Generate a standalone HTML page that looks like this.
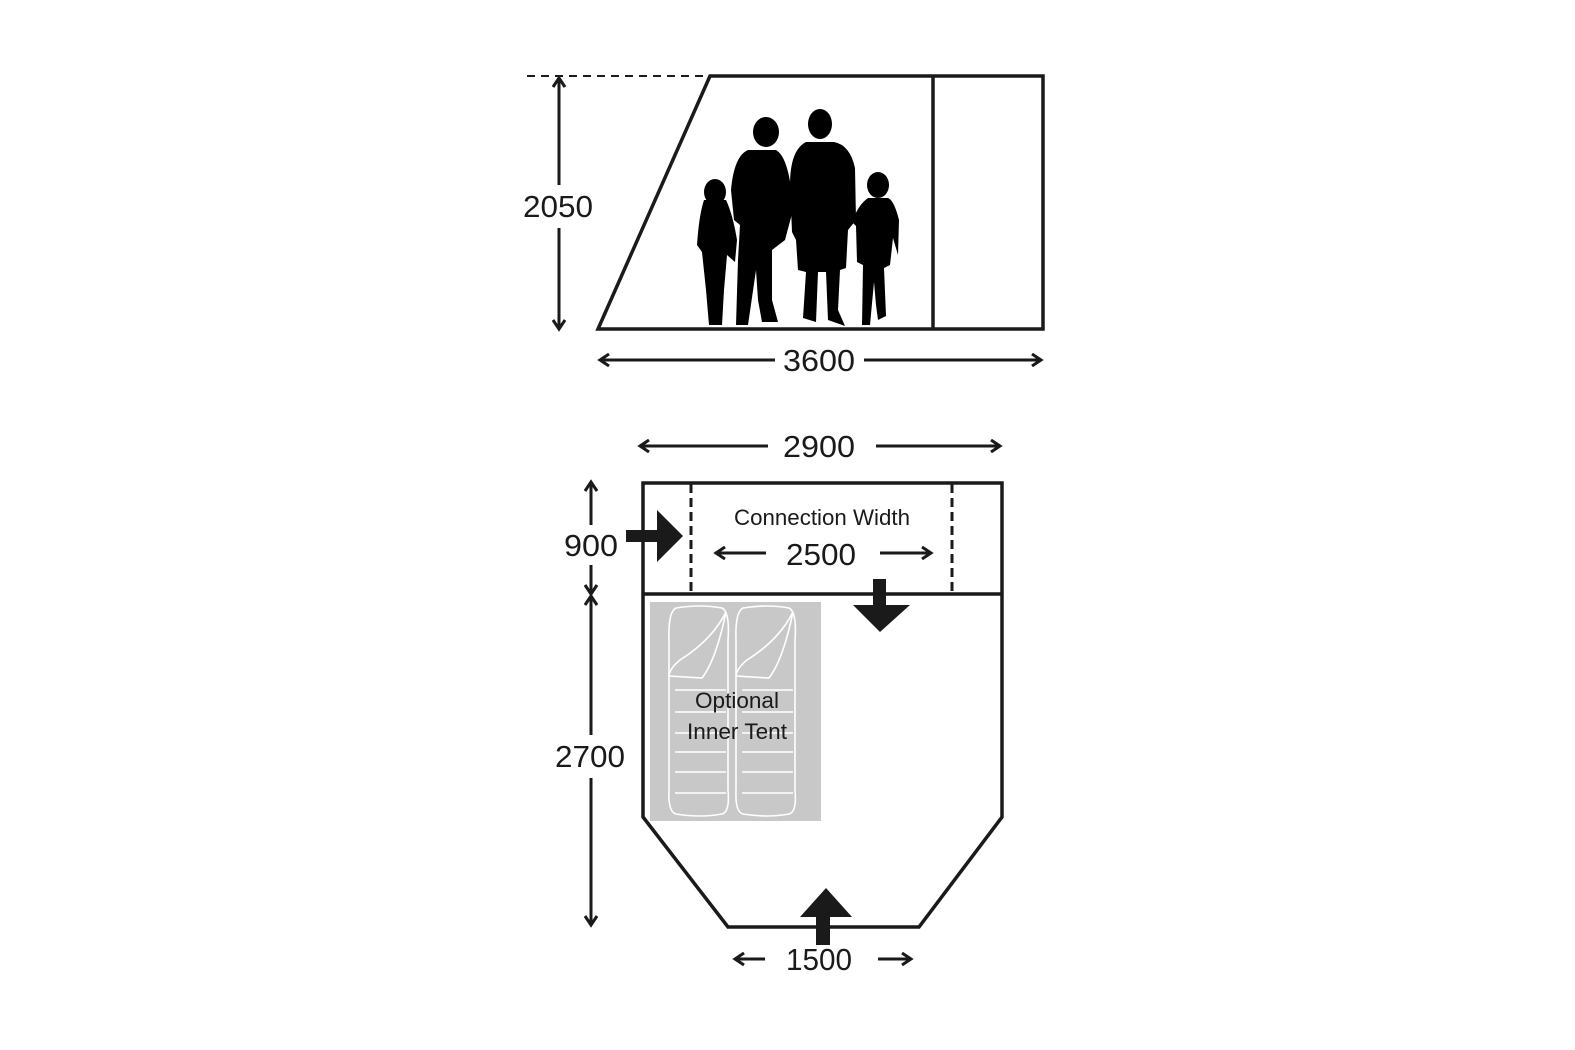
<!DOCTYPE html>
<html><head><meta charset="utf-8"><style>
html,body{margin:0;padding:0;background:#fff;width:1575px;height:1050px;overflow:hidden}
text{font-family:"Liberation Sans Narrow","Liberation Sans",sans-serif;fill:#1a1a1a}
</style></head><body>
<svg width="1575" height="1050" viewBox="0 0 1575 1050" xmlns="http://www.w3.org/2000/svg">
<defs>
<marker id="ah" markerWidth="14" markerHeight="14" refX="11" refY="7" orient="auto" markerUnits="userSpaceOnUse">
<path d="M2,1 L11,7 L2,13" fill="none" stroke="#1a1a1a" stroke-width="3"/>
</marker>
</defs>
<g stroke="#1a1a1a" stroke-width="3.5" fill="none">
<line x1="527" y1="76" x2="710" y2="76" stroke-dasharray="8,6" stroke-width="2"/>
<polygon points="710,76 1043,76 1043,329 598,329"/>
<line x1="933" y1="76" x2="933" y2="329"/>
<line x1="559" y1="185" x2="559" y2="78" stroke-width="3" marker-end="url(#ah)"/>
<line x1="559" y1="228" x2="559" y2="329" stroke-width="3" marker-end="url(#ah)"/>
<line x1="775" y1="360" x2="600" y2="360" stroke-width="3" marker-end="url(#ah)"/>
<line x1="864" y1="360" x2="1041" y2="360" stroke-width="3" marker-end="url(#ah)"/>
<line x1="768" y1="446" x2="640" y2="446" stroke-width="3" marker-end="url(#ah)"/>
<line x1="876" y1="446" x2="1000" y2="446" stroke-width="3" marker-end="url(#ah)"/>
</g>
<rect x="650" y="602" width="171" height="219" fill="#c8c8c8"/>
<g fill="none" stroke="#fff" stroke-width="1.6">
<path d="M676,608 Q700,604 722,608 Q730,612 728,640 L728,790 Q730,812 722,814 Q700,818 676,814 Q668,812 669,790 L669,640 Q668,612 676,608 Z"/>
<path d="M743,608 Q767,604 789,608 Q797,612 795,640 L795,790 Q797,812 789,814 Q767,818 743,814 Q735,812 736,790 L736,640 Q735,612 743,608 Z"/>
<path d="M726,612 Q712,640 680,660 Q670,668 669,676 L702,678 Q716,660 726,612"/>
<path d="M793,612 Q779,640 747,660 Q737,668 736,676 L769,678 Q783,660 793,612"/>
<path d="M675,690H726M675,712H726M675,733H726M675,752H726M675,772H726M675,793H726M742,690H793M742,712H793M742,733H793M742,752H793M742,772H793M742,793H793"/>
</g>
<g stroke="#1a1a1a" stroke-width="3.5" fill="none">
<polyline points="1002,594 1002,483 643,483 643,817 728,927 919,927 1002,817 1002,594 643,594"/>
<line x1="691" y1="484" x2="691" y2="594" stroke-dasharray="9,5" stroke-width="3"/>
<line x1="952" y1="484" x2="952" y2="594" stroke-dasharray="9,5" stroke-width="3"/>
<line x1="766" y1="553" x2="716" y2="553" stroke-width="3" marker-end="url(#ah)"/>
<line x1="880" y1="553" x2="931" y2="553" stroke-width="3" marker-end="url(#ah)"/>
<line x1="591" y1="525" x2="591" y2="482" stroke-width="3" marker-end="url(#ah)"/>
<line x1="591" y1="565" x2="591" y2="594" stroke-width="3" marker-end="url(#ah)"/>
<line x1="591" y1="735" x2="591" y2="596" stroke-width="3" marker-end="url(#ah)"/>
<line x1="591" y1="778" x2="591" y2="925" stroke-width="3" marker-end="url(#ah)"/>
<line x1="765" y1="959" x2="735" y2="959" stroke-width="3" marker-end="url(#ah)"/>
<line x1="878" y1="959" x2="911" y2="959" stroke-width="3" marker-end="url(#ah)"/>
</g>
<g fill="#1a1a1a">
<polygon points="626,530 657,530 657,510 683,536 657,562 657,542 626,542"/>
<polygon points="873,579 886,579 886,605 910,605 880,632 853,605 873,605"/>
<polygon points="816,945 830,945 830,917 852,917 826,888 800,917 816,917"/>
</g>
<g fill="#000">
<ellipse cx="715" cy="192" rx="11" ry="13"/>
<path d="M704,200 Q699,215 697,245 L702,252 L706,290 L709,325 L722,325 L724,290 L727,255 L735,262 L737,240 Q733,215 726,200 Z"/>
<ellipse cx="766" cy="132" rx="13" ry="15"/>
<path d="M748,150 Q734,156 731,190 L734,220 L740,225 L738,260 L736,325 L748,325 L756,270 L758,300 L762,322 L778,322 L772,300 L772,250 L785,240 L793,210 Q790,158 776,150 Z"/>
<ellipse cx="820" cy="124" rx="12" ry="15"/>
<path d="M806,142 Q790,150 790,185 L792,232 L796,240 L798,270 L806,272 L803,318 L816,322 L818,272 L826,272 L828,320 L845,326 L838,310 L840,270 L846,268 L848,230 L856,220 L855,168 Q850,145 834,142 Z"/>
<ellipse cx="878" cy="185" rx="11" ry="13"/>
<path d="M868,198 Q858,205 852,222 L856,226 L857,262 L863,265 L862,325 L870,325 L874,282 L876,305 L878,320 L886,316 L884,268 L890,265 L893,238 L898,255 L899,220 Q894,200 888,198 Z"/>
</g>
<g font-size="31">
<text x="558" y="217" text-anchor="middle" textLength="70" lengthAdjust="spacingAndGlyphs">2050</text>
<text x="819" y="371" text-anchor="middle" textLength="72" lengthAdjust="spacingAndGlyphs">3600</text>
<text x="819" y="457" text-anchor="middle" textLength="72" lengthAdjust="spacingAndGlyphs">2900</text>
<text x="821" y="565" text-anchor="middle" textLength="70" lengthAdjust="spacingAndGlyphs">2500</text>
<text x="591" y="556" text-anchor="middle" textLength="54" lengthAdjust="spacingAndGlyphs">900</text>
<text x="590" y="767" text-anchor="middle" textLength="70" lengthAdjust="spacingAndGlyphs">2700</text>
<text x="819" y="970" text-anchor="middle" textLength="66" lengthAdjust="spacingAndGlyphs">1500</text>
</g>
<text x="822" y="525" font-size="22" text-anchor="middle" textLength="176" lengthAdjust="spacingAndGlyphs">Connection Width</text>
<text x="737" y="708" font-size="22" text-anchor="middle" textLength="84" lengthAdjust="spacingAndGlyphs">Optional</text>
<text x="737" y="739" font-size="22" text-anchor="middle" textLength="100" lengthAdjust="spacingAndGlyphs">Inner Tent</text>
</svg>
</body></html>
